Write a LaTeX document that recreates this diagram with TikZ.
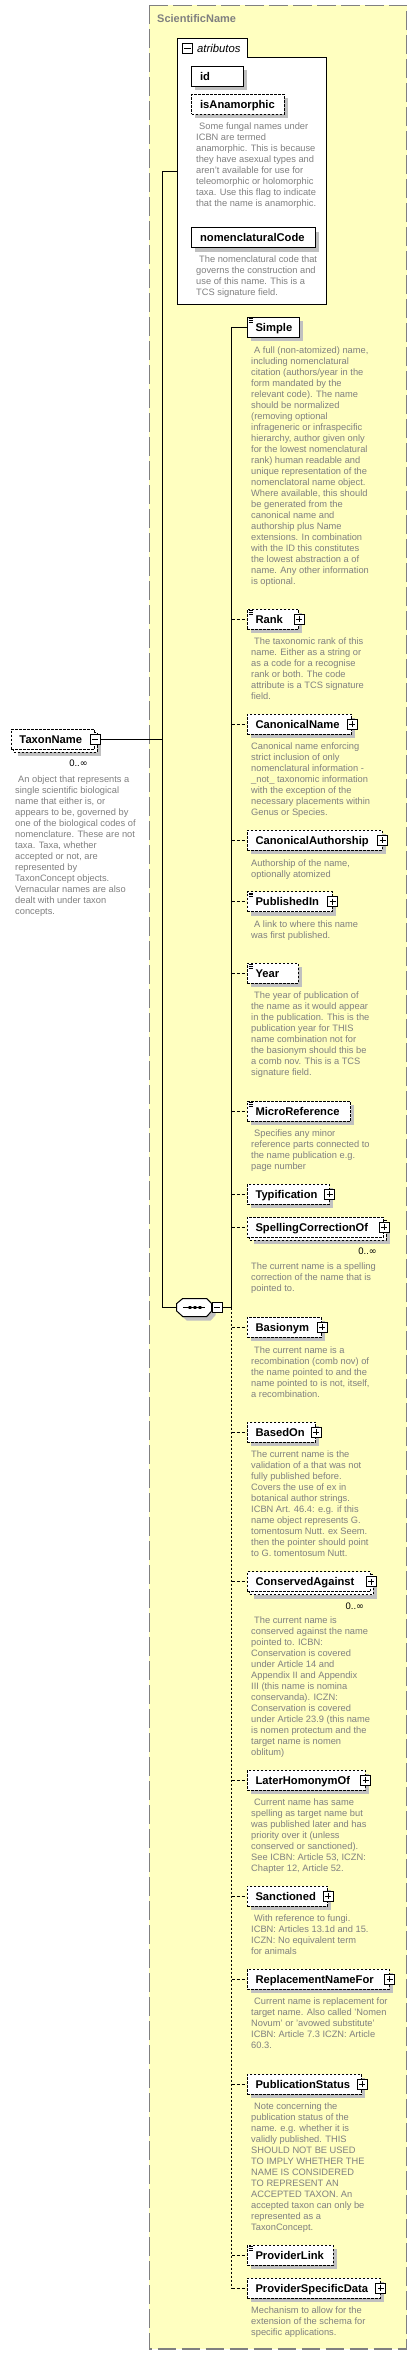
\documentclass[tikz,border=0pt]{standalone}
\usepackage{fontspec}
\setmainfont{Liberation Sans}
\newfontfamily\symfont{DejaVu Sans}
\usetikzlibrary{calc}
\definecolor{bgyellow}{RGB}{255,255,192}
\definecolor{shadowgray}{RGB}{192,192,192}
\definecolor{docgray}{RGB}{128,128,128}
\definecolor{framegray}{RGB}{128,128,128}
\tikzset{
  elbox/.style={draw=black, fill=white, line width=1pt, inner sep=0pt, minimum height=20pt},
  optbox/.style={elbox, dash pattern=on 2.5pt off 1.5pt},
  lbl/.style={font=\fontsize{11.2}{13}\selectfont\bfseries, inner sep=0pt, text=black},
  doc/.style={font=\fontsize{9.3}{11}\selectfont, text=docgray, align=left, inner sep=0pt, anchor=north west},
  mult/.style={font=\fontsize{9.5}{11}\selectfont, inner sep=0pt, text=black},
  conn/.style={line width=1pt, draw=black},
  optconn/.style={conn, dash pattern=on 3pt off 2pt},
  busdash/.style={conn, dash pattern=on 2.5pt off 1.5pt},
  pmbox/.style={draw=black, fill=white, line width=1pt, minimum size=10pt, inner sep=0pt},
}
\newcommand\dstrut{\rule{0pt}{8pt}}
\newcommand\plusmark[1]{\draw[line width=0.9pt] ($(#1.west)+(2.4,0)$) -- ($(#1.east)+(-2.4,0)$) ($(#1.north)+(0,2.4)$) -- ($(#1.south)+(0,-2.4)$);}
\newcommand\minusmark[1]{\draw[line width=0.9pt] ($(#1.west)+(2.4,0)$) -- ($(#1.east)+(-2.4,0)$);}
\newcommand\plusat[1]{\node[pmbox] (#1-p) at (#1.east) {}; \plusmark{#1-p}}
\newcommand\docat[1]{\draw[line width=0.6pt] ($(#1.north west)+(2,1.8)$) -- ++(4.6,0) ($(#1.north west)+(2,3.5)$) -- ++(4.6,0) ($(#1.north west)+(2,5.1)$) -- ++(4.6,0);}
\newcommand\gelem[6]{%
  \fill[shadowgray] (#3+4,#5-6) rectangle (#4+4,#5+14);
  \pgfmathsetmacro\elw{#4-(#3)}%
  \node[#6, minimum width=\elw pt, anchor=west] (#1) at (#3,#5) {};
  \node[lbl, anchor=base west] (#1-t) at (#3+8.6,#5+4) {#2};
}
\newcommand\gmulti[6]{%
  \fill[shadowgray] (#3+7,#5-3) rectangle (#4+7,#5+17);
  \draw[fill=white, line width=1pt, dash pattern=on 2.5pt off 1.5pt] (#3+3,#5-7) rectangle (#4+3,#5+13);
  \pgfmathsetmacro\elw{#4-(#3)}%
  \node[#6, minimum width=\elw pt, anchor=west] (#1) at (#3,#5) {};
  \node[lbl, anchor=base west] (#1-t) at (#3+8.6,#5+4) {#2};
  \node[mult, anchor=base east] (#1-m) at (#4-6,#5+27.5) {0..{\symfont ∞}};
}
\begin{document}
\begin{tikzpicture}[x=1pt,y=-1pt]
\useasboundingbox (0,0) rectangle (417,2355);
\fill[white] (0,0) rectangle (417,2355);
% outer group
\draw[fill=bgyellow, draw=framegray, line width=1.3pt, dash pattern=on 18.7pt off 5.3pt] (149.3,5.3) rectangle (406.7,2349);
\node[font=\fontsize{11}{13}\selectfont\bfseries, text=framegray, anchor=base west, inner sep=0pt] (scin) at (157,23) {ScientificName};

% atributos
\draw[fill=white, line width=1pt] (177.3,38.7) -- (247.3,38.7) -- (247.3,57.7) -- (326.3,57.7) -- (326.3,304) -- (177.3,304) -- cycle;
\node[pmbox] (attrm) at (187.5,48.8) {}; \minusmark{attrm}
\node[font=\fontsize{11.3}{13}\selectfont\itshape, anchor=base west, inner sep=0pt] (attrt) at (197,52.5) {atributos};
\coordinate (attrL) at (177.3,171.3);

\gelem{aid}{id}{191.3}{242.7}{76.3}{elbox}
\gelem{aana}{isAnamorphic}{191.3}{283.7}{104.3}{optbox}
\node[doc] (aanad) at (196,121.7) {\dstrut\hspace*{3pt}Some fungal names under\\ICBN are termed\\anamorphic. This is because\\they have asexual types and\\aren't available for use for\\teleomorphic or holomorphic\\taxa. Use this flag to indicate\\that the name is anamorphic.};
\gelem{anom}{nomenclaturalCode}{191.3}{314.7}{237.7}{elbox}
\node[doc] (anomd) at (196,254.7) {\dstrut\hspace*{3pt}The nomenclatural code that\\governs the construction and\\use of this name. This is a\\TCS signature field.};

% TaxonName
\gmulti{tn}{TaxonName}{10.7}{94}{739.3}{optbox}
\node[pmbox] (tnm) at (tn.east) {}; \minusmark{tnm}
\node[doc] (tnd) at (15,774.3) {\dstrut\hspace*{3pt}An object that represents a\\single scientific biological\\name that either is, or\\appears to be, governed by\\one of the biological codes of\\nomenclature. These are not\\taxa. Taxa, whether\\accepted or not, are\\represented by\\TaxonConcept objects.\\Vernacular names are also\\dealt with under taxon\\concepts.};

% compositor
\fill[shadowgray] (186.7,1302.5) -- (210.7,1302.5) -- (215.7,1307.5) -- (215.7,1315) -- (210.7,1320.5) -- (186.7,1320.5) -- (180.7,1315) -- (180.7,1307.5) -- cycle;
\draw[fill=white, line width=1pt] (182.7,1298.5) -- (206.7,1298.5) -- (211.7,1303.5) -- (211.7,1311) -- (206.7,1316.5) -- (182.7,1316.5) -- (176.7,1311) -- (176.7,1303.5) -- cycle;
\draw[line width=1pt] (183.3,1307.5) -- (205,1307.5);
\fill (188.7,1306.2) rectangle (191.3,1308.8) (193.7,1306.2) rectangle (196.3,1308.8) (198.7,1306.2) rectangle (201.3,1308.8);
\node[pmbox] (cm) at (217.2,1307.5) {}; \minusmark{cm}
\coordinate (compW) at (176.7,1307.5);

% children
\gelem{simple}{Simple}{246.7}{299.3}{327.3}{elbox} \docat{simple}
\node[doc] (simpled) at (251,345) {\dstrut\hspace*{3pt}A full (non-atomized) name,\\including nomenclatural\\citation (authors/year in the\\form mandated by the\\relevant code). The name\\should be normalized\\(removing optional\\infrageneric or infraspecific\\hierarchy, author given only\\for the lowest nomenclatural\\rank) human readable and\\unique representation of the\\nomenclatoral name object.\\Where available, this should\\be generated from the\\canonical name and\\authorship plus Name\\extensions. In combination\\with the ID this constitutes\\the lowest abstraction a of\\name. Any other information\\is optional.};

\gelem{rank}{Rank}{246.7}{298.3}{619.3}{optbox} \docat{rank} \plusat{rank}
\node[doc] (rankd) at (251,636.7) {\dstrut\hspace*{3pt}The taxonomic rank of this\\name. Either as a string or\\as a code for a recognise\\rank or both. The code\\attribute is a TCS signature\\field.};

\gelem{cname}{CanonicalName}{246.7}{351.2}{724.3}{optbox} \plusat{cname}
\node[doc] (cnamed) at (251,741.7) {\dstrut Canonical name enforcing\\strict inclusion of only\\nomenclatural information -\\\_not\_ taxonomic information\\with the exception of the\\necessary placements within\\Genus or Species.};

\gelem{cauth}{CanonicalAuthorship}{246.7}{381.7}{840.3}{optbox} \plusat{cauth}
\node[doc] (cauthd) at (251,858) {\dstrut Authorship of the name,\\optionally atomized};

\gelem{pubin}{PublishedIn}{246.7}{331.7}{901.7}{optbox} \docat{pubin} \plusat{pubin}
\node[doc] (pubind) at (251,919) {\dstrut\hspace*{3pt}A link to where this name\\was first published.};

\gelem{year}{Year}{246.7}{297.7}{973.3}{optbox} \docat{year}
\node[doc] (yeard) at (251,990.7) {\dstrut\hspace*{3pt}The year of publication of\\the name as it would appear\\in the publication. This is the\\publication year for THIS\\name combination not for\\the basionym should this be\\a comb nov. This is a TCS\\signature field.};

\gelem{micro}{MicroReference}{246.7}{350}{1111.3}{optbox} \docat{micro}
\node[doc] (microd) at (251,1128.7) {\dstrut\hspace*{3pt}Specifies any minor\\reference parts connected to\\the name publication e.g.\\page number};

\gelem{typif}{Typification}{246.7}{328.7}{1194.3}{optbox} \plusat{typif}

\gmulti{spell}{SpellingCorrectionOf}{246.7}{383}{1227.3}{optbox} \plusat{spell}
\node[doc] (spelld) at (251,1261.7) {\dstrut The current name is a spelling\\correction of the name that is\\pointed to.};

\gelem{basio}{Basionym}{246.7}{321}{1327.3}{optbox} \plusat{basio}
\node[doc] (basiod) at (251,1345) {\dstrut\hspace*{3pt}The current name is a\\recombination (comb nov) of\\the name pointed to and the\\name pointed to is not, itself,\\a recombination.};

\gelem{based}{BasedOn}{246.7}{315.3}{1432.3}{optbox} \plusat{based}
\node[doc] (basedd) at (251,1449.7) {\dstrut The current name is the\\validation of a that was not\\fully published before.\\Covers the use of ex in\\botanical author strings.\\ICBN Art. 46.4: e.g. if this\\name object represents G.\\tomentosum Nutt. ex Seem.\\then the pointer should point\\to G. tomentosum Nutt.};

\gmulti{cons}{ConservedAgainst}{246.7}{370.3}{1581.7}{optbox} \plusat{cons}
\node[doc] (consd) at (251,1615.7) {\dstrut\hspace*{3pt}The current name is\\conserved against the name\\pointed to. ICBN:\\Conservation is covered\\under Article 14 and\\Appendix II and Appendix\\III (this name is nomina\\conservanda). ICZN:\\Conservation is covered\\under Article 23.9 (this name\\is nomen protectum and the\\target name is nomen\\oblitum)};

\gelem{later}{LaterHomonymOf}{246.7}{364.7}{1780.3}{optbox} \plusat{later}
\node[doc] (laterd) at (251,1797.7) {\dstrut\hspace*{3pt}Current name has same\\spelling as target name but\\was published later and has\\priority over it (unless\\conserved or sanctioned).\\See ICBN: Article 53, ICZN:\\Chapter 12, Article 52.};

\gelem{sanct}{Sanctioned}{246.7}{327.3}{1896}{optbox} \plusat{sanct}
\node[doc] (sanctd) at (251,1913.3) {\dstrut\hspace*{3pt}With reference to fungi.\\ICBN: Articles 13.1d and 15.\\ICZN: No equivalent term\\for animals};

\gelem{repl}{ReplacementNameFor}{246.7}{388.7}{1979.3}{optbox} \plusat{repl}
\node[doc] (repld) at (251,1996.7) {\dstrut\hspace*{3pt}Current name is replacement for\\target name. Also called 'Nomen\\Novum' or 'avowed substitute'\\ICBN: Article 7.3 ICZN: Article\\60.3.};

\gelem{pstat}{PublicationStatus}{246.7}{361.3}{2084.3}{optbox} \plusat{pstat}
\node[doc] (pstatd) at (251,2101.7) {\dstrut\hspace*{3pt}Note concerning the\\publication status of the\\name. e.g. whether it is\\validly published. THIS\\SHOULD NOT BE USED\\TO IMPLY WHETHER THE\\NAME IS CONSIDERED\\TO REPRESENT AN\\ACCEPTED TAXON. An\\accepted taxon can only be\\represented as a\\TaxonConcept.};

\gelem{plink}{ProviderLink}{246.7}{332.7}{2255.3}{optbox} \docat{plink}

\gelem{psd}{ProviderSpecificData}{246.7}{379.7}{2288.3}{optbox} \plusat{psd}
\node[doc] (psdd) at (251,2305.7) {\dstrut Mechanism to allow for the\\extension of the schema for\\specific applications.};

% connectors
\coordinate (mainbus) at (162.3,0);
\coordinate (cbus) at (231.7,0);
\draw[conn] (tnm.east) -- (tnm.east -| mainbus);
\draw[conn] (attrL) -- (attrL -| mainbus) -- (compW -| mainbus) -- (compW);
\draw[conn] (cm.east) -- (cm.east -| cbus);
\draw[conn] (simple.west) -- (simple.west -| cbus) -- (cm.east -| cbus);
\draw[busdash] (cm.east -| cbus) -- (psd.west -| cbus);
\foreach \n in {rank,cname,cauth,pubin,year,micro,typif,spell,basio,based,cons,later,sanct,repl,pstat,plink,psd}
  \draw[optconn] (\n.west -| cbus) -- (\n.west);
\end{tikzpicture}
\end{document}
